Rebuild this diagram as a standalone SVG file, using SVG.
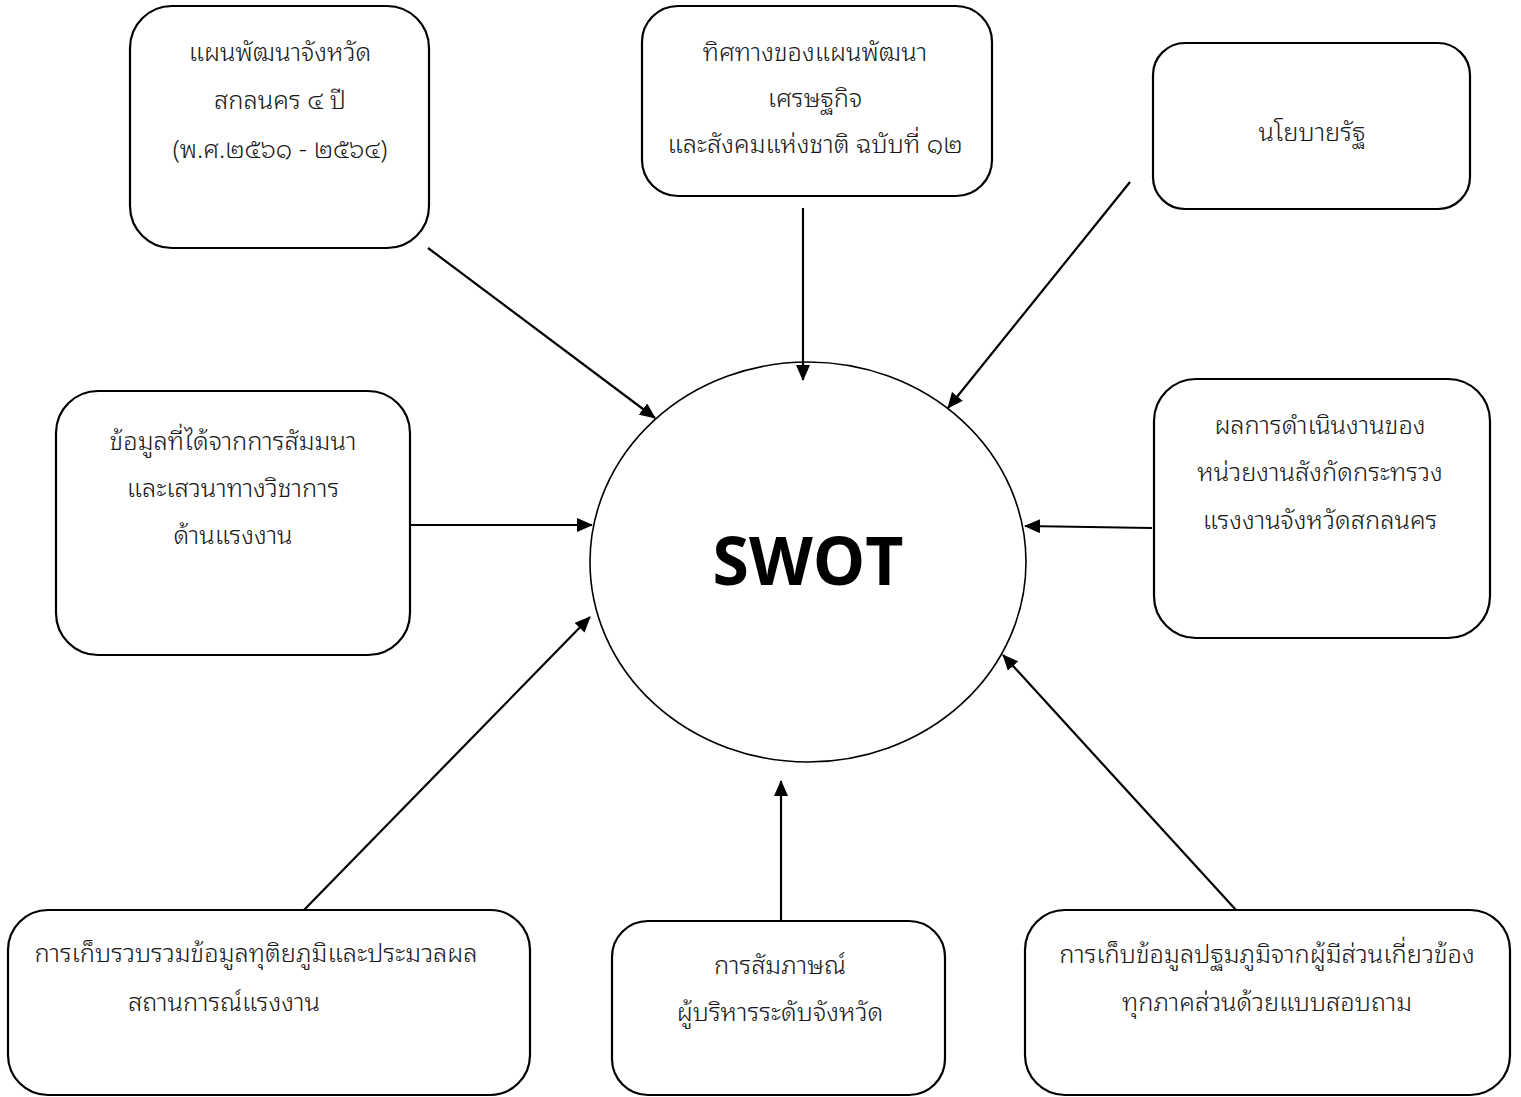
<svg xmlns="http://www.w3.org/2000/svg" width="1521" height="1097" viewBox="0 0 1521 1097">
<style>
.box{fill:#fff;stroke:#000;stroke-width:2.2}
.t{font-family:"Noto Sans Thai Looped","Noto Sans Thai","Noto Sans","DejaVu Sans",sans-serif;font-size:25.5px;font-weight:300;fill:#1a1a1a;text-anchor:middle}
.c{stroke:#000;stroke-width:2.2;fill:none;marker-end:url(#ah)}
</style>
<defs>
<marker id="ah" markerUnits="userSpaceOnUse" markerWidth="16" markerHeight="14" viewBox="0 0 16 14" refX="15" refY="7" orient="auto">
<path d="M0,0 L16,7 L0,14 z" fill="#000"/>
</marker>
</defs>
<rect width="1521" height="1097" fill="#fff"/>
<g id="center">
<ellipse cx="808" cy="562" rx="218" ry="200" fill="#fff" stroke="#000" stroke-width="1.6"/>
<text x="808" y="585" font-family="'Open Sans','Noto Sans',sans-serif" font-size="66" font-weight="bold" text-anchor="middle">SWOT</text>
</g>
<g id="connectors">
<line class="c" x1="428" y1="248" x2="655" y2="418"/>
<line class="c" x1="803" y1="208" x2="803" y2="380"/>
<line class="c" x1="1130" y1="182" x2="948" y2="408"/>
<line class="c" x1="410" y1="525" x2="592" y2="525"/>
<line class="c" x1="1152" y1="528" x2="1025" y2="526"/>
<line class="c" x1="303" y1="911" x2="590" y2="617"/>
<line class="c" x1="781" y1="921" x2="781" y2="781"/>
<line class="c" x1="1236" y1="910" x2="1003" y2="655"/>
</g>
<g id="n1">
<rect class="box" x="130" y="6" width="299" height="242" rx="42"/>
<text class="t" x="280" y="61">แผนพัฒนาจังหวัด</text>
<text class="t" x="280" y="109">สกลนคร ๔ ปี</text>
<text class="t" x="280" y="158">(พ.ศ.๒๕๖๑ - ๒๕๖๔)</text>
</g>
<g id="n2">
<rect class="box" x="642" y="6" width="350" height="190" rx="36"/>
<text class="t" x="815" y="61">ทิศทางของแผนพัฒนา</text>
<text class="t" x="815" y="107">เศรษฐกิจ</text>
<text class="t" x="815" y="153">และสังคมแห่งชาติ ฉบับที่ ๑๒</text>
</g>
<g id="n3">
<rect class="box" x="1153" y="43" width="317" height="166" rx="32"/>
<text class="t" x="1312" y="141">นโยบายรัฐ</text>
</g>
<g id="n4">
<rect class="box" x="56" y="391" width="354" height="264" rx="42"/>
<text class="t" x="233" y="450">ข้อมูลที่ได้จากการสัมมนา</text>
<text class="t" x="233" y="497">และเสวนาทางวิชาการ</text>
<text class="t" x="233" y="544">ด้านแรงงาน</text>
</g>
<g id="n5">
<rect class="box" x="1154" y="379" width="336" height="259" rx="42"/>
<text class="t" x="1320" y="434">ผลการดำเนินงานของ</text>
<text class="t" x="1320" y="481">หน่วยงานสังกัดกระทรวง</text>
<text class="t" x="1320" y="529">แรงงานจังหวัดสกลนคร</text>
</g>
<g id="n6">
<rect class="box" x="8" y="910" width="522" height="185" rx="40"/>
<text class="t" x="256" y="962">การเก็บรวบรวมข้อมูลทุติยภูมิและประมวลผล</text>
<text class="t" x="224" y="1011">สถานการณ์แรงงาน</text>
</g>
<g id="n7">
<rect class="box" x="612" y="921" width="333" height="174" rx="36"/>
<text class="t" x="780" y="974">การสัมภาษณ์</text>
<text class="t" x="780" y="1021">ผู้บริหารระดับจังหวัด</text>
</g>
<g id="n8">
<rect class="box" x="1025" y="910" width="485" height="185" rx="40"/>
<text class="t" x="1267" y="963">การเก็บข้อมูลปฐมภูมิจากผู้มีส่วนเกี่ยวข้อง</text>
<text class="t" x="1267" y="1011">ทุกภาคส่วนด้วยแบบสอบถาม</text>
</g>
</svg>
